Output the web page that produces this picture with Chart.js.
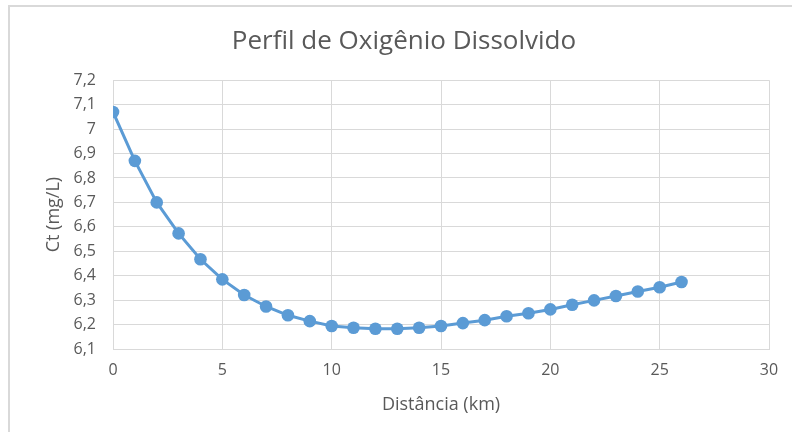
<!DOCTYPE html>
<html>
<head>
<meta charset="utf-8">
<script src="https://cdn.jsdelivr.net/npm/chart.js@4.4.1/dist/chart.umd.min.js"></script>
<style>
  html, body { margin:0; padding:0; background:#fff; }
  #wrap { position:relative; width:792px; height:432px; overflow:hidden; }
  #frame { position:absolute; left:8px; top:5px; width:800px; height:440px;
           border-left:2px solid #d9d9d9; border-top:2px solid #d9d9d9; box-sizing:border-box; }
  canvas { position:absolute; left:0; top:0; }
</style>
</head>
<body>
<div id="wrap">
  <div id="frame"></div>
  <canvas id="chartOD" width="792" height="432"></canvas>
</div>
<script>
// distância (km) e concentração de OD (mg/L)
const distancia = [0,1,2,3,4,5,6,7,8,9,10,11,12,13,14,15,16,17,18,19,20,21,22,23,24,25,26];
const ct = [7.07,6.87,6.70,6.573,6.467,6.385,6.321,6.274,6.238,6.214,6.194,6.187,6.183,6.183,6.187,
            6.194,6.206,6.218,6.234,6.246,6.262,6.281,6.299,6.317,6.335,6.353,6.374];
const xTicks = [0,5,10,15,20,25,30];
const yMin = 6.1, yMax = 7.2;

const fonte = '"Open Sans", "Noto Sans", sans-serif';
const cinza = '#595959';

function initChart(){
  const pontos = distancia.map((d, i) => ({ x: d, y: ct[i] }));
  new Chart(document.getElementById('chartOD').getContext('2d'), {
    type: 'line',
    data: { datasets: [{
      data: pontos,
      borderColor: '#5b9bd5', backgroundColor: '#5b9bd5',
      borderWidth: 3, pointRadius: 6.3, pointHoverRadius: 6.3,
      pointBorderWidth: 0, tension: 0
    }]},
    options: {
      responsive: false, animation: false,
      layout: { padding: { left: 39, right: 23, top: 0, bottom: 0 } },
      plugins: {
        legend: { display: false }, tooltip: { enabled: false },
        title: { display: true, text: 'Perfil de Oxigênio Dissolvido', color: cinza,
                 font: { family: fonte, size: 26, weight: 'normal' }, padding: { top: 26, bottom: 23 } }
      },
      scales: {
        x: {
          type: 'linear', min: 0, max: 30,
          afterBuildTicks: s => { s.ticks = xTicks.map(v => ({ value: v })); },
          afterFit: s => { s.height = 83; },
          grid: { color: '#d9d9d9', lineWidth: 1, drawTicks: false },
          border: { color: '#d9d9d9', width: 1 },
          ticks: { color: cinza, font: { family: fonte, size: 16 }, padding: 12 },
          title: { display: true, text: 'Distância (km)', color: cinza,
                   font: { family: fonte, size: 18 }, padding: { top: 8, bottom: 16 } }
        },
        y: {
          min: yMin, max: yMax,
          afterFit: s => { s.width = 74; },
          grid: { color: '#d9d9d9', lineWidth: 1, drawTicks: false },
          border: { color: '#d9d9d9', width: 1 },
          ticks: { stepSize: 0.1, color: cinza, font: { family: fonte, size: 16 }, padding: 17,
                   callback: v => (Math.round(v * 10) / 10).toString().replace('.', ',') },
          title: { display: true, text: 'Ct (mg/L)', color: cinza,
                   font: { family: fonte, size: 18 }, padding: { top: 4, bottom: 4 } }
        }
      }
    }
  });
}
document.addEventListener('DOMContentLoaded', initChart);
</script>
</body>
</html>
